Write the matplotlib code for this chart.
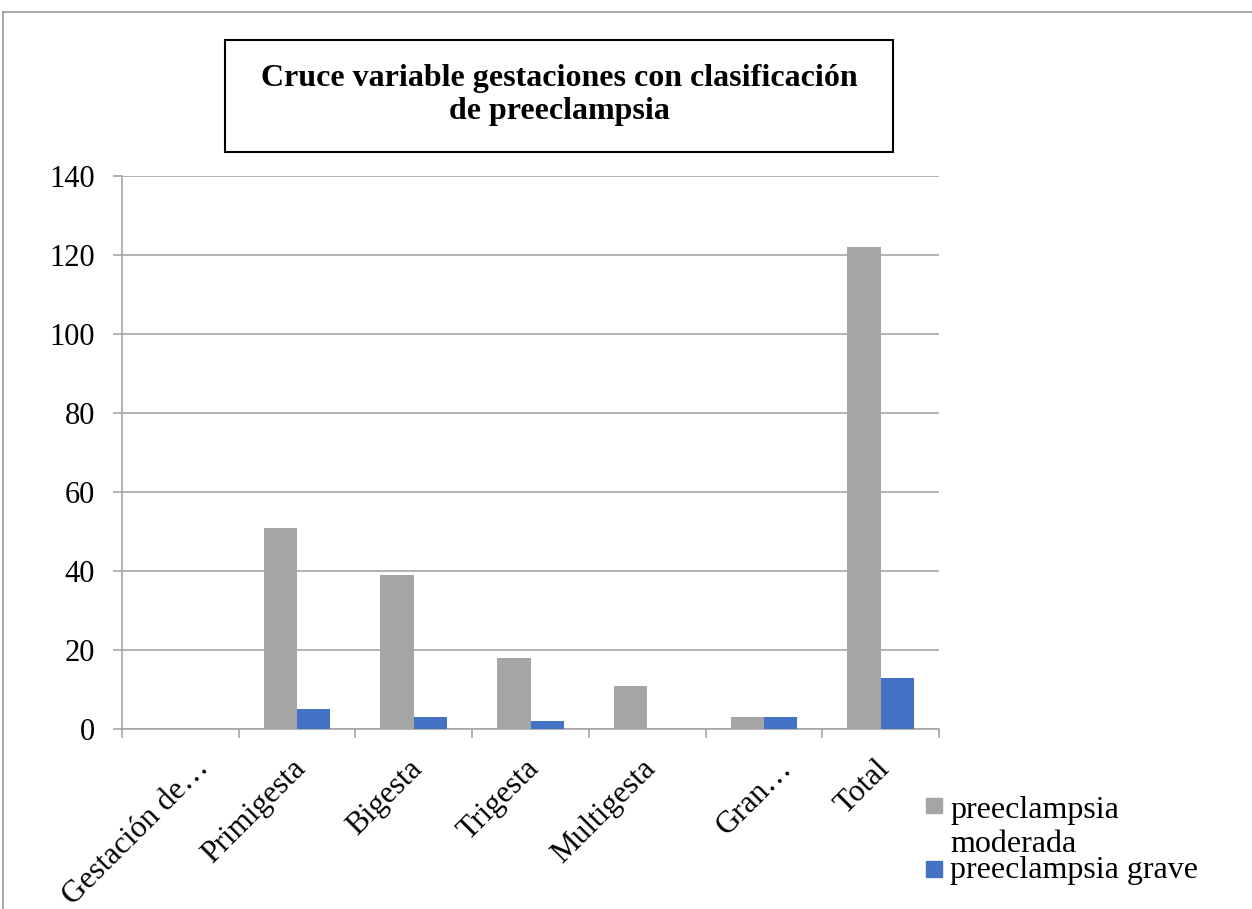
import matplotlib.pyplot as plt
import numpy as np
from matplotlib.lines import Line2D
from matplotlib.patches import Rectangle
from matplotlib.transforms import ScaledTranslation

categories = ["Gestación de…", "Primigesta", "Bigesta", "Trigesta", "Multigesta", "Gran…", "Total"]
moderada = [0, 51, 39, 18, 11, 3, 122]
grave = [0, 5, 3, 2, 0, 3, 13]
series_labels = ["preeclampsia\nmoderada", "preeclampsia grave"]
yticks = [0, 20, 40, 60, 80, 100, 120, 140]

GRAY = "#A5A5A5"
BLUE = "#4472C4"
LINE = "#A6A6A6"
W, H = 1252, 909


def fx(px):
    return px / W


def fy(py):
    return 1 - py / H


def main():
    plt.rcParams["font.family"] = ["Liberation Serif", "DejaVu Serif"]
    fig = plt.figure(figsize=(12.52, 9.09), dpi=100)
    fig.patch.set_facecolor("white")

    # outer frame (top and left edges only, as in the source)
    fig.add_artist(Line2D([fx(3), 1], [fy(12), fy(12)], color="#A0A0A0", lw=1.3, transform=fig.transFigure))
    fig.add_artist(Line2D([fx(3), fx(3)], [fy(12), 0], color="#A0A0A0", lw=1.3, transform=fig.transFigure))

    ax = fig.add_axes([fx(122), fy(729), fx(939) - fx(122), fy(176) - fy(729)])

    x = np.arange(len(categories))
    bw = 1 / 3.5
    ax.bar(x - bw / 2, moderada, width=bw, color=GRAY, zorder=3)
    ax.bar(x + bw / 2, grave, width=bw, color=BLUE, zorder=3)

    ax.set_xlim(-0.5, len(categories) - 0.5)
    ax.set_ylim(0, 140)
    ax.set_yticks(yticks)
    ax.set_yticklabels([str(v) for v in yticks], fontsize=22)
    ax.yaxis.grid(True, color=LINE, lw=1.2, zorder=0)
    ax.tick_params(axis="y", direction="out", length=6.5, width=1.2, color=LINE, pad=13)

    ax.set_xticks(x)
    ax.set_xticklabels(categories, fontsize=22.5, rotation=45, ha="right", va="top",
                       rotation_mode="anchor")
    ax.tick_params(axis="x", which="major", length=0, pad=18)
    for lab in ax.get_xticklabels():
        # truncated labels sit a bit further right in the original
        dx = 14 if lab.get_text().endswith("…") else -6
        lab.set_transform(lab.get_transform() + ScaledTranslation(dx / 100, 0, fig.dpi_scale_trans))
    ax.set_xticks(np.arange(len(categories) + 1) - 0.5, minor=True)
    ax.tick_params(axis="x", which="minor", direction="out", length=6.5, width=1.2, color=LINE)

    for s in ["top", "right"]:
        ax.spines[s].set_visible(False)
    for s in ["left", "bottom"]:
        ax.spines[s].set_color(LINE)
        ax.spines[s].set_linewidth(1.2)

    # title box
    fig.add_artist(Rectangle((fx(225), fy(152)), fx(893) - fx(225), fy(40) - fy(152),
                             fill=False, edgecolor="black", lw=1.5, transform=fig.transFigure))
    fig.text(fx(559), fy(86), "Cruce variable gestaciones con clasificación",
             ha="center", va="baseline", fontsize=23, fontweight="bold")
    fig.text(fx(559), fy(119), "de preeclampsia",
             ha="center", va="baseline", fontsize=23, fontweight="bold")

    # legend
    fig.add_artist(Rectangle((fx(926), fy(813)), fx(16), 15 / H, color=GRAY, transform=fig.transFigure))
    fig.add_artist(Rectangle((fx(926), fy(877)), fx(16), 16 / H, color=BLUE, transform=fig.transFigure))
    fig.text(fx(950), fy(852), series_labels[0], ha="left", va="baseline", fontsize=23,
             linespacing=1.22)
    fig.text(fx(950), fy(878), series_labels[1], ha="left", va="baseline", fontsize=23)

    fig.savefig("out.png", dpi=100, facecolor="white")
    plt.close(fig)


if __name__ == "__main__":
    main()
